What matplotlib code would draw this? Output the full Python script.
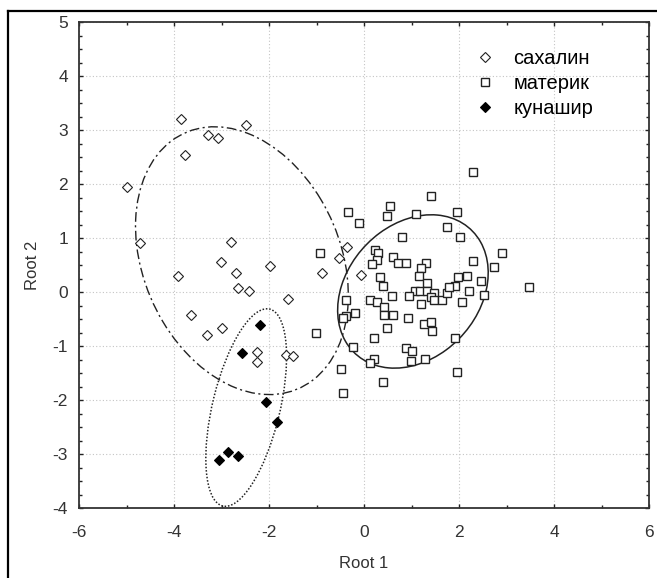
import numpy as np
import matplotlib
matplotlib.use('Agg')
import matplotlib.pyplot as plt
from matplotlib.patches import Ellipse
from matplotlib.lines import Line2D
from matplotlib.ticker import MultipleLocator

plt.rcParams['font.family'] = ['Liberation Sans', 'DejaVu Sans']
plt.rcParams['axes.unicode_minus'] = False

# сахалин
sakh_x = [-3.85, -2.49, -3.28, -3.07, -3.76, -4.98, -4.72, -2.81, -3.01, -1.98,
          -2.69, -3.92, -2.66, -2.42, -1.61, -3.65, -3.00, -3.31, -2.25, -2.25,
          -1.64, -1.49, -0.36, -0.52, -0.89, -0.06]
sakh_y = [3.21, 3.09, 2.91, 2.85, 2.54, 1.94, 0.90, 0.93, 0.56, 0.48,
          0.36, 0.30, 0.08, 0.02, -0.13, -0.43, -0.67, -0.79, -1.11, -1.30,
          -1.16, -1.18, 0.83, 0.63, 0.35, 0.32]

# материк
mat_x = [2.29, 1.40, -0.34, 0.55, 0.48, -0.10, 1.09, 1.95, 1.74, 2.02,
         0.79, -0.92, 0.24, 0.30, 0.28, 0.17, 0.62, 0.72, 0.88, 1.30,
         1.20, 2.29, 2.90, 2.73, 0.34, 1.16, 0.41, 1.32, 1.97, 2.16,
         1.92, 2.46, 3.48, 1.07, 1.18, 1.32, 1.47, 0.95, 0.59, 1.41,
         1.20, 1.47, 1.64, 1.74, 1.78, 2.20, 2.06, 2.53, 0.13, 0.28,
         -0.38, 0.43, 0.43, 0.62, -0.20, -0.38, -0.44, 0.93, 1.27, 1.42,
         1.44, -1.02, 0.48, 0.22, 1.92, -0.24, 0.88, 1.00, 0.21, 0.13,
         0.99, 1.29, -0.48, 1.95, 0.41, -0.45]
mat_y = [2.22, 1.77, 1.48, 1.59, 1.41, 1.27, 1.44, 1.48, 1.20, 1.02,
         1.02, 0.72, 0.78, 0.72, 0.60, 0.51, 0.64, 0.54, 0.54, 0.54,
         0.44, 0.57, 0.72, 0.46, 0.28, 0.30, 0.12, 0.17, 0.28, 0.30,
         0.12, 0.21, 0.09, 0.02, 0.01, 0.01, -0.01, -0.08, -0.08, -0.09,
         -0.22, -0.15, -0.15, -0.01, 0.10, 0.02, -0.19, -0.06, -0.15, -0.19,
         -0.15, -0.28, -0.43, -0.43, -0.39, -0.45, -0.49, -0.49, -0.60, -0.55,
         -0.73, -0.75, -0.67, -0.85, -0.85, -1.01, -1.03, -1.09, -1.24, -1.31,
         -1.28, -1.24, -1.42, -1.48, -1.66, -1.87]

# кунашир
kun_x = [-2.20, -2.57, -2.07, -1.84, -2.86, -2.65, -3.05]
kun_y = [-0.62, -1.13, -2.04, -2.40, -2.97, -3.03, -3.12]

# ellipses: center x, center y, var x, var y, cov xy
ell_sakh = [-2.57, 0.58, 2.24 ** 2, 2.48 ** 2, -1.43]
ell_mat = [1.03, 0.01, 1.585 ** 2, 1.42 ** 2, 0.55]
ell_kun = [-2.48, -2.14, 0.85 ** 2, 1.83 ** 2, 0.80]


def draw_ellipse(ax, p, **kw):
    cx, cy, vx, vy, cxy = p
    vals, vecs = np.linalg.eigh(np.array([[vx, cxy], [cxy, vy]]))
    ang = np.degrees(np.arctan2(vecs[1, 1], vecs[0, 1]))
    e = Ellipse((cx, cy), 2 * np.sqrt(vals[1]), 2 * np.sqrt(vals[0]),
                angle=ang, fill=False, **kw)
    ax.add_patch(e)


fig = plt.figure(figsize=(6.57, 5.78), dpi=100)
ax = fig.add_axes([79 / 657, 1 - 508 / 578, 570 / 657, 486 / 578])

ax.plot(sakh_x, sakh_y, 'D', ms=5.0, mfc='white', mec='#222222', mew=0.8,
        label='сахалин', zorder=3)
ax.plot(mat_x, mat_y, 's', ms=6, mfc='white', mec='#222222', mew=1.0,
        label='материк', zorder=3)
ax.plot(kun_x, kun_y, 'D', ms=5.0, mfc='black', mec='black', mew=0.8,
        label='кунашир', zorder=3)

draw_ellipse(ax, ell_sakh, color='#222222', lw=1.0,
             linestyle=(0, (7, 2.5, 1.5, 2.5)), zorder=2)
draw_ellipse(ax, ell_mat, color='#222222', lw=1.1, linestyle='-', zorder=2)
draw_ellipse(ax, ell_kun, color='#222222', lw=1.1,
             linestyle=(0, (1, 1.2)), zorder=2)

ax.set_xlim(-6, 6)
ax.set_ylim(-4, 5)
ax.xaxis.set_major_locator(MultipleLocator(2))
ax.xaxis.set_minor_locator(MultipleLocator(1))
ax.yaxis.set_major_locator(MultipleLocator(1))
ax.yaxis.set_minor_locator(MultipleLocator(0.25))
ax.tick_params(which='both', direction='in', top=True, right=True,
               color='#222222', width=1.0)
ax.tick_params(which='major', length=3, labelsize=12.5, labelcolor='#333333')
ax.tick_params(which='minor', length=2)
ax.tick_params(axis='x', pad=12)
ax.tick_params(axis='y', pad=8)
ax.grid(True, which='major', color='#c4c4c4', linestyle=(0, (1, 2)), lw=0.8)
ax.set_axisbelow(True)
for s in ax.spines.values():
    s.set_color('#333333')
    s.set_linewidth(1.3)

ax.set_xlabel('Root 1', fontsize=12, color='#333333', labelpad=12)
ax.set_ylabel('Root 2', fontsize=12, color='#333333', labelpad=9)

ax.legend(loc='upper left', bbox_to_anchor=(0.695, 0.945), frameon=False,
          fontsize=14.5, handlelength=1.0, handletextpad=0.9,
          labelspacing=0.3, borderpad=0, borderaxespad=0)

# outer frame
fig.add_artist(Line2D([8 / 657, 8 / 657], [0, 1 - 11 / 578],
                      color='black', lw=1.6))
fig.add_artist(Line2D([8 / 657, 1], [1 - 11 / 578, 1 - 11 / 578],
                      color='black', lw=1.6))

fig.savefig('out.png', dpi=100)
